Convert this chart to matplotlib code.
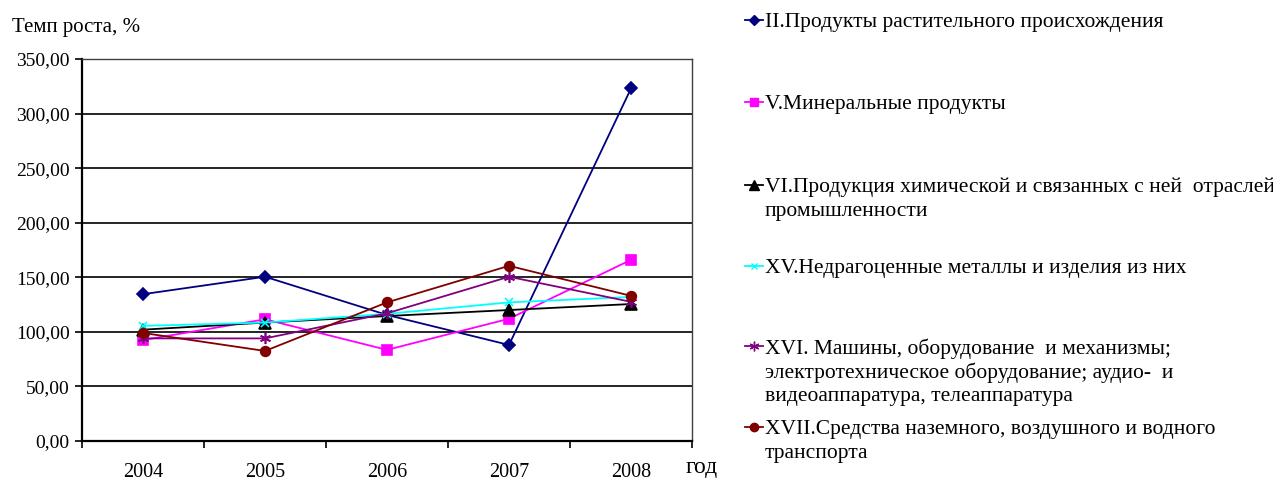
import matplotlib.pyplot as plt
from matplotlib.lines import Line2D

plt.rcParams['font.family'] = ['Liberation Serif', 'DejaVu Serif']

years = ["2004", "2005", "2006", "2007", "2008"]

plant = [134.5, 150.5, 115.5, 88.0, 323.0]
mineral = [92.5, 111.5, 83.5, 112.0, 166.0]
chemical = [102.0, 108.5, 114.5, 120.0, 125.5]
metals = [105.5, 108.5, 116.5, 127.0, 132.0]
machines = [94.0, 94.0, 117.0, 150.5, 127.5]
transport = [99.0, 82.5, 127.0, 160.5, 133.0]

labels = [
    ["II.Продукты растительного происхождения"],
    ["V.Минеральные продукты"],
    ["VI.Продукция химической и связанных с ней  отраслей", "промышленности"],
    ["XV.Недрагоценные металлы и изделия из них"],
    ["XVI. Машины, оборудование  и механизмы;", "электротехническое оборудование; аудио-  и",
     "видеоаппаратура, телеаппаратура"],
    ["XVII.Средства наземного, воздушного и водного", "транспорта"],
]

series = [plant, mineral, chemical, metals, machines, transport]
colors = ["#000080", "#FF00FF", "#000000", "#00FFFF", "#800080", "#800000"]
markers = ["D", "s", "^", "x", (6, 2, 0), "o"]
msizes = [6, 7, 8, 6, 8, 7]

W, H = 1273, 480
fig = plt.figure(figsize=(W / 100, H / 100), dpi=100)
ax = fig.add_axes([82 / W, 1 - 441 / H, 610 / W, 382 / H])

x = list(range(len(years)))
for vals, c, m, ms in zip(series, colors, markers, msizes):
    ax.plot(x, vals, color=c, marker=m, markersize=ms, linewidth=1.3,
            markeredgecolor=c, markerfacecolor=c, markeredgewidth=1.2)

ax.set_xlim(-0.5, 4.5)
ax.set_ylim(0, 350)
ax.set_yticks(range(0, 351, 50))
ax.set_yticklabels([f"{v:.2f}".replace(".", ",") for v in range(0, 351, 50)], fontsize=14)
ax.set_xticks(x)
ax.set_xticklabels(years, fontsize=14.5)
ax.set_xticks([i + 0.5 for i in range(-1, 5)], minor=True)
ax.tick_params(axis='x', which='major', length=0, pad=16)
ax.tick_params(axis='x', which='minor', length=5, width=1.2, direction='out')
ax.tick_params(axis='y', length=5, width=1.2, direction='out', pad=4)
ax.grid(axis='y', color='black', linewidth=1.2)
ax.set_axisbelow(True)
for s in ['left', 'bottom']:
    ax.spines[s].set_linewidth(1.6)
for s in ['top', 'right']:
    ax.spines[s].set_linewidth(1.0)
    ax.spines[s].set_color('#404040')

fig.text(12 / W, 1 - 25 / H, "Темп роста, %", fontsize=15, ha='left', va='center_baseline')
fig.text(686 / W, 1 - 468 / H, "год", fontsize=17, ha='left', va='center')

# legend drawn by hand on the right side
first_y = [20, 102, 185, 266, 346, 427]
line_gap = 24
for lab, yy, c, m, ms in zip(labels, first_y, colors, markers, msizes):
    fy = 1 - yy / H
    fig.add_artist(Line2D([745 / W, 763 / W], [fy, fy], color=c, linewidth=1.3,
                          transform=fig.transFigure))
    fig.add_artist(Line2D([754 / W], [fy], color=c, marker=m, markersize=ms - 1,
                          markerfacecolor=c, markeredgecolor=c, markeredgewidth=1.0,
                          transform=fig.transFigure))
    for k, txt in enumerate(lab):
        fig.text(765 / W, 1 - (yy + k * line_gap) / H, txt, fontsize=15.5,
                 ha='left', va='center_baseline')

fig.savefig("out.png", dpi=100)
